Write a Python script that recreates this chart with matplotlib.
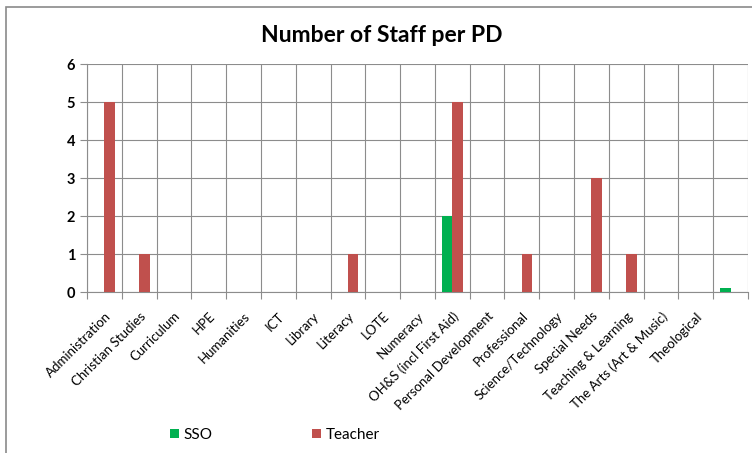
import matplotlib
matplotlib.use("Agg")
import matplotlib.pyplot as plt
import numpy as np
from matplotlib.patches import Rectangle

plt.rcParams['font.family'] = ['Lato', 'DejaVu Sans']

categories = ["Administration", "Christian Studies", "Curriculum", "HPE", "Humanities",
              "ICT", "Library", "Literacy", "LOTE", "Numeracy", "OH&S (incl First Aid)",
              "Personal Development", "Professional", "Science/Technology", "Special Needs",
              "Teaching & Learning", "The Arts (Art & Music)", "Theological", ""]
sso = [0, 0, 0, 0, 0, 0, 0, 0, 0, 0, 2, 0, 0, 0, 0, 0, 0, 0, 0.1]
teacher = [5, 1, 0, 0, 0, 0, 0, 1, 0, 0, 5, 0, 1, 0, 3, 1, 0, 0, 0]

green = "#00B050"
red = "#C0504D"
grid_col = "#8c8c8c"

fig = plt.figure(figsize=(7.52, 4.53), dpi=100)
ax = fig.add_axes([87 / 752, 1 - 292 / 453, 661 / 752, 228 / 453])

x = np.arange(len(categories))
w = 0.3
ax.bar(x - w / 2, sso, w, color=green, label="SSO", zorder=3)
ax.bar(x + w / 2, teacher, w, color=red, label="Teacher", zorder=3)

ax.set_xlim(-0.5, len(categories) - 0.5)
ax.set_ylim(0, 6)
ax.set_yticks(range(7))
ax.set_xticks(x)
ax.set_xticklabels(categories, rotation=45, ha="right", rotation_mode="anchor", fontsize=9.5)
ax.set_xticks(np.arange(len(categories) + 1) - 0.5, minor=True)
ax.tick_params(axis="x", which="major", length=0, pad=13)
ax.tick_params(axis="x", which="minor", length=5, color=grid_col, width=0.8)
ax.tick_params(axis="y", length=5, color=grid_col, width=0.8, labelsize=10.5)
for t in ax.get_yticklabels():
    t.set_fontweight("bold")
ax.grid(True, which="minor", axis="x", color=grid_col, linewidth=0.8, zorder=0)
ax.grid(True, which="major", axis="y", color=grid_col, linewidth=0.8, zorder=0)
for s in ["top", "right"]:
    ax.spines[s].set_visible(False)
for s in ["left", "bottom"]:
    ax.spines[s].set_color(grid_col)
    ax.spines[s].set_linewidth(0.8)

fig.text(382 / 752, 1 - 36 / 453, "Number of Staff per PD", ha="center", va="center",
         fontsize=16.5, fontweight="bold")

fig.legend(loc="center", bbox_to_anchor=(275 / 752, 1 - 435 / 453), ncol=2, frameon=False,
           fontsize=11, handlelength=0.6, handleheight=0.6, handletextpad=0.3, columnspacing=6.5)

fig.patches.append(Rectangle((6 / 752, -0.1), 1.2, 1 - 7 / 453 + 0.1, transform=fig.transFigure,
                             fill=False, edgecolor="#8a8a8a", linewidth=1.2))

fig.savefig("out.png", dpi=100)
